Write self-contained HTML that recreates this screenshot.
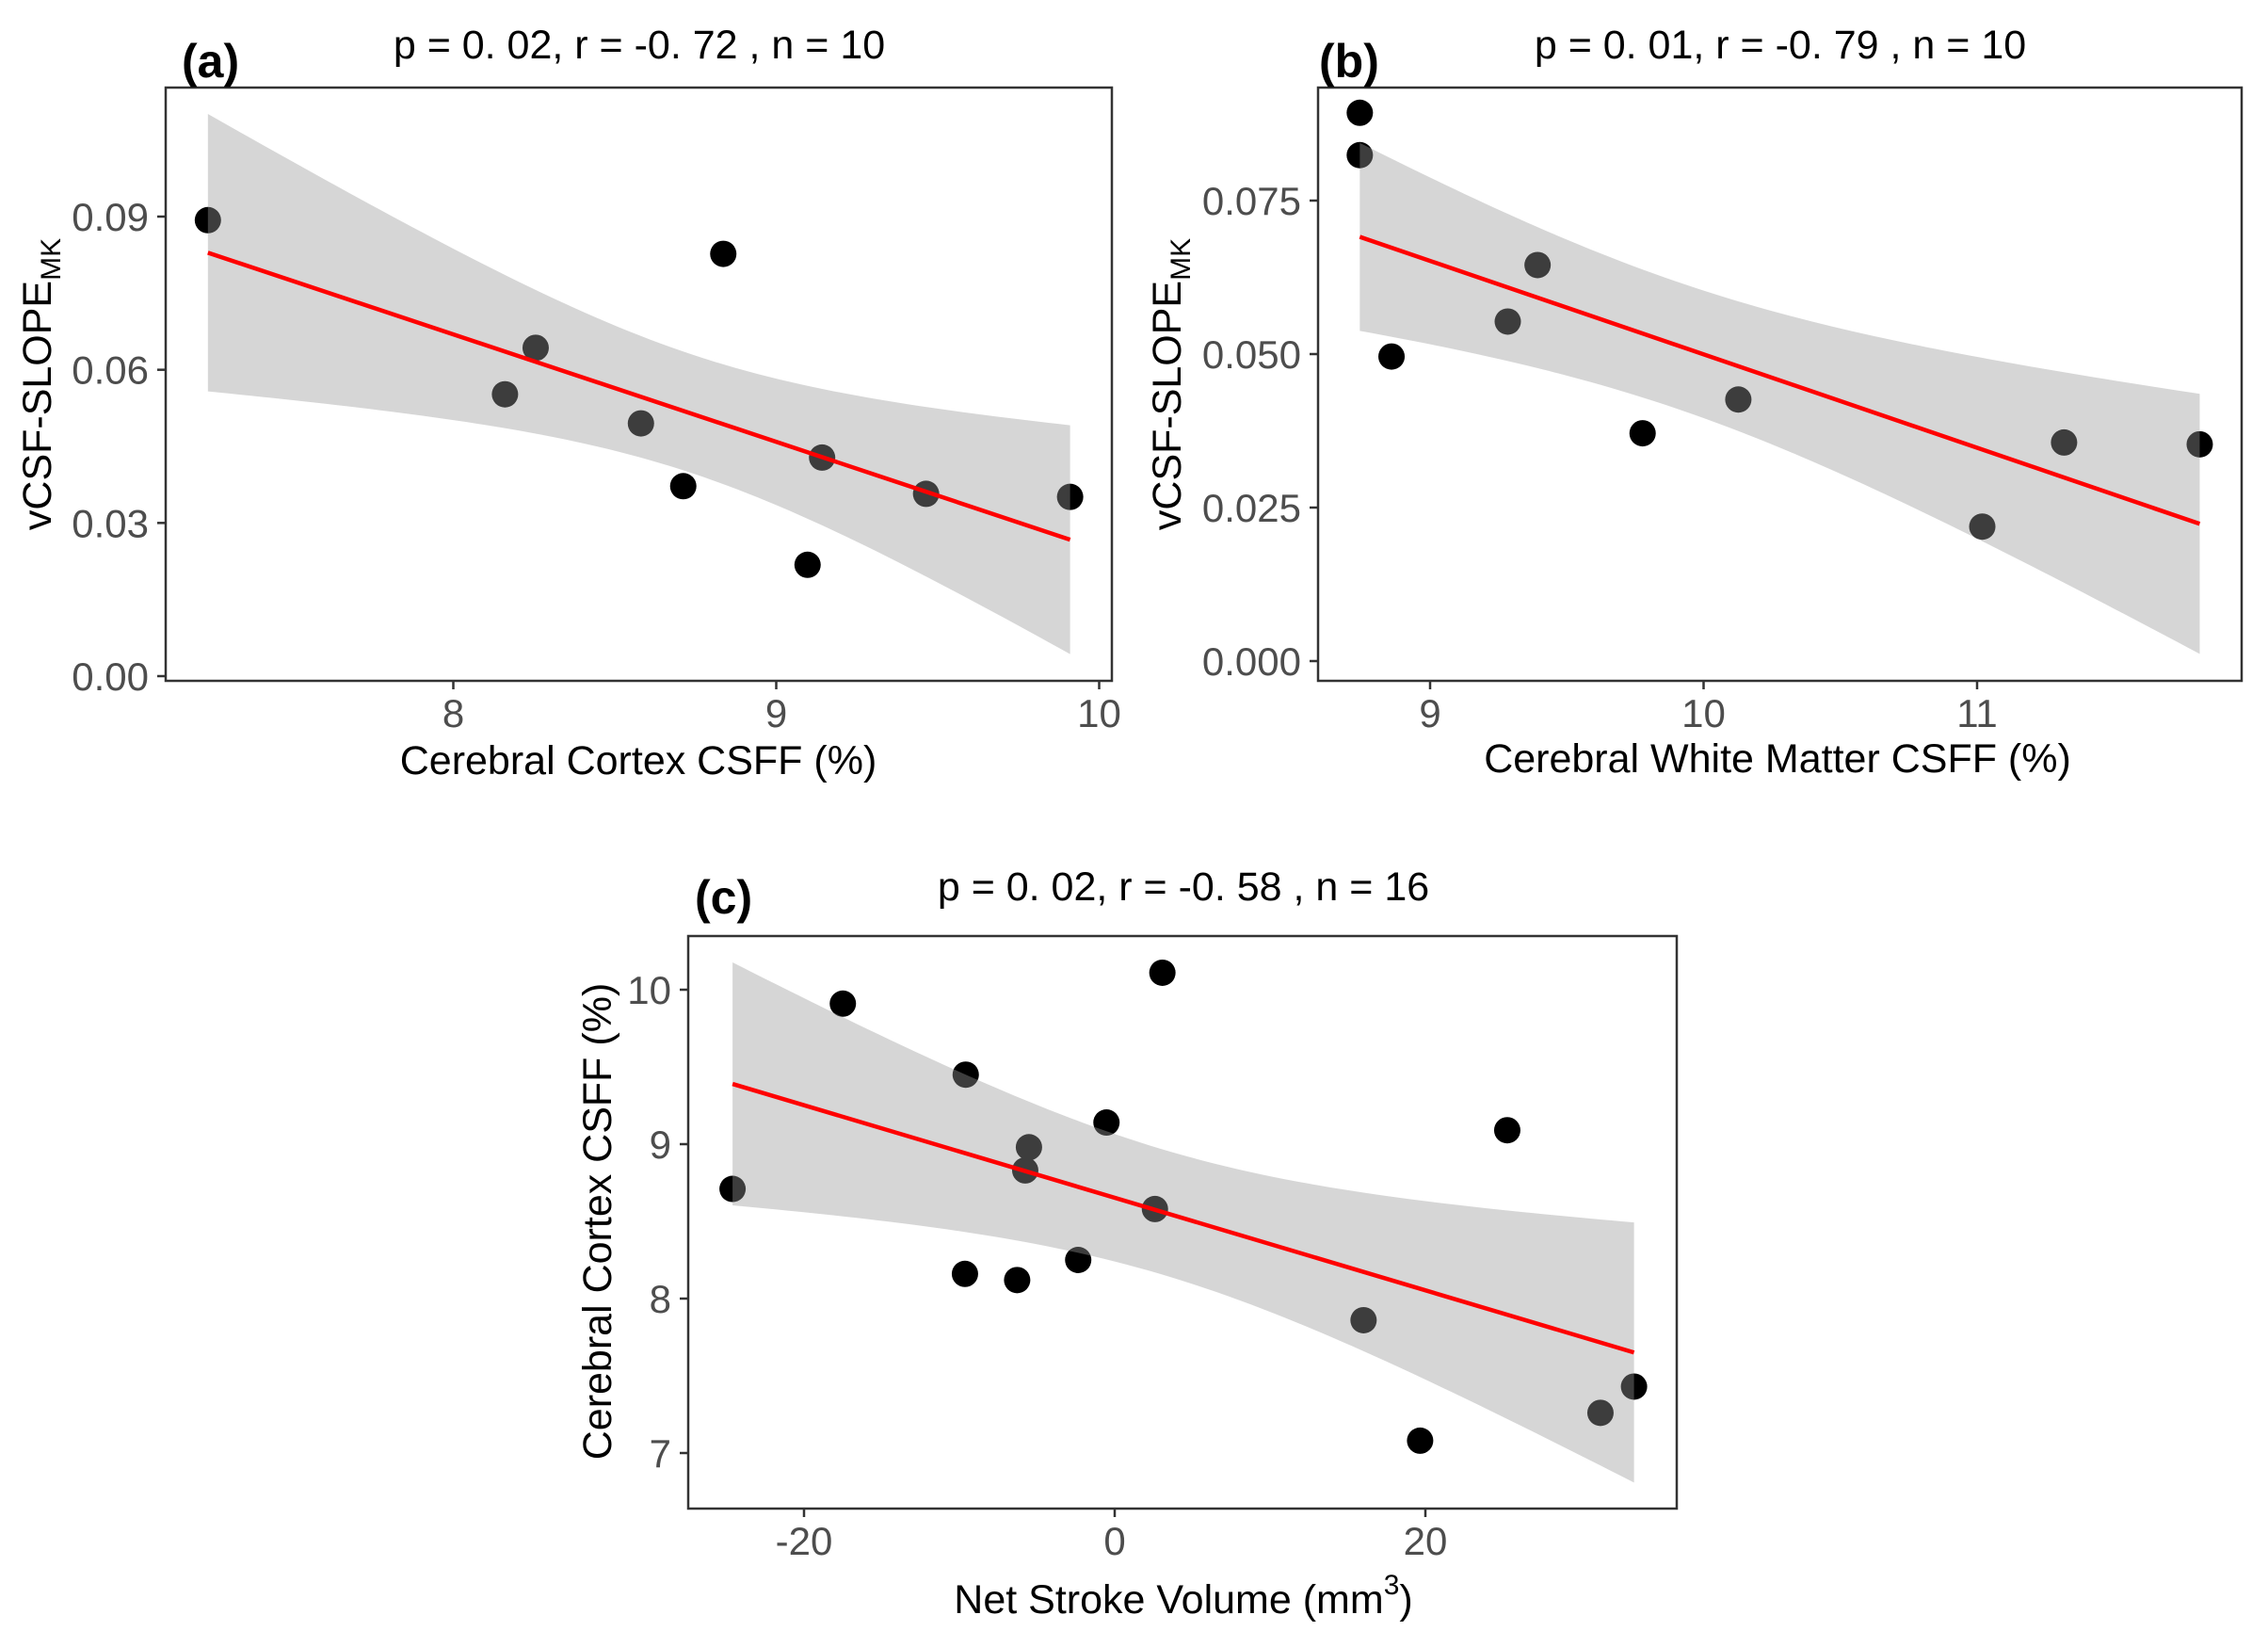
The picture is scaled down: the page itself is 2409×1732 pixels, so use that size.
<!DOCTYPE html>
<html><head><meta charset="utf-8"><style>
html,body{margin:0;padding:0;background:#fff;}
svg{display:block;font-family:"Liberation Sans",Arial,sans-serif;}
</style></head><body>
<svg id="fig" width="2409" height="1732" viewBox="0 0 2409 1732" xmlns="http://www.w3.org/2000/svg">
<rect width="2409" height="1732" fill="#fff"/>
</svg>
<script>
// Panel (a)
const aX = [7.24, 8.836, 8.255, 8.16, 8.581, 8.712, 9.142, 9.097, 9.464, 9.91];
const aY = [0.0893, 0.0827, 0.0643, 0.0552, 0.0495, 0.0372, 0.0428, 0.0218, 0.0357, 0.0351];
const aXTicks = [8, 9, 10];
const aYTicks = [0.00, 0.03, 0.06, 0.09];
const aYTickLabels = ["0.00", "0.03", "0.06", "0.09"];
// Panel (b)
const bX = [8.743, 8.743, 8.859, 9.284, 9.393, 9.777, 10.127, 11.019, 11.318, 11.814];
const bY = [0.0893, 0.0824, 0.0496, 0.0553, 0.0645, 0.0371, 0.0426, 0.0219, 0.0356, 0.0353];
const bXTicks = [9, 10, 11];
const bYTicks = [0.000, 0.025, 0.050, 0.075];
const bYTickLabels = ["0.000", "0.025", "0.050", "0.075"];
// Panel (c)
const cX = [-24.6, -17.5, -9.59, -9.64, -6.28, -5.52, -5.76, -2.35, -0.53, 3.07, 2.59, 16.02, 19.66, 25.27, 31.27, 33.43];
const cY = [8.71, 9.91, 9.45, 8.16, 8.12, 8.98, 8.83, 8.25, 9.14, 10.11, 8.58, 7.86, 7.08, 9.09, 7.26, 7.43];
const cXTicks = [-20, 0, 20];
const cYTicks = [7, 8, 9, 10];

const NS = "http://www.w3.org/2000/svg";
const svg = document.getElementById('fig');
function mk(tag, attrs, parent){
  const e = document.createElementNS(NS, tag);
  for (const k in attrs) e.setAttribute(k, attrs[k]);
  (parent||svg).appendChild(e);
  return e;
}
function tq(df){ return df===8 ? 2.306 : df===14 ? 2.145 : 2.0; }

function panel(cfg){
  const g = mk('g', {});
  
  
  const sx = v => cfg.x0px + (v - cfg.x0v) * cfg.xppu;
  const sy = v => cfg.y0px - (v - cfg.y0v) * cfg.yppu;
  const pts = mk('g', {}, g);
  
  
  cfg.xs.forEach((xv, i) => {
    const c = mk('circle', {cx: sx(xv), cy: sy(cfg.ys[i]), r: 14, fill: '#000'}, pts);
    
    
  });
  const n = cfg.xs.length;
  const mx = cfg.xs.reduce((a,b)=>a+b,0)/n, my = cfg.ys.reduce((a,b)=>a+b,0)/n;
  let sxx=0, sxy=0;
  cfg.xs.forEach((x,i)=>{ sxx += (x-mx)*(x-mx); sxy += (x-mx)*(cfg.ys[i]-my); });
  const b1 = sxy/sxx, b0 = my - b1*mx;
  let sse = 0;
  cfg.xs.forEach((x,i)=>{ const r = cfg.ys[i]-(b0+b1*x); sse += r*r; });
  const s = Math.sqrt(sse/(n-2)), t = tq(n-2);
  const xmin = Math.min(...cfg.xs), xmax = Math.max(...cfg.xs);
  const up = [], lo = [];
  for (let k=0;k<=80;k++){
    const x = xmin + (xmax-xmin)*k/80;
    const f = b0+b1*x, se = s*Math.sqrt(1/n + (x-mx)*(x-mx)/sxx);
    up.push(sx(x)+','+sy(f+t*se));
    lo.unshift(sx(x)+','+sy(f-t*se));
  }
  const band = mk('polygon', {points: up.concat(lo).join(' '), fill: '#999999', 'fill-opacity': 0.4}, g);
  
  
  const line = mk('line', {x1: sx(xmin), y1: sy(b0+b1*xmin), x2: sx(xmax), y2: sy(b0+b1*xmax), stroke: '#ff0000', 'stroke-width': 4.5}, g);
  
  
  const bd = mk('rect', {x: cfg.L, y: cfg.T, width: cfg.R-cfg.L, height: cfg.B-cfg.T, fill: 'none', stroke: '#333', 'stroke-width': 2.5}, g);
  
  
  cfg.xt.forEach((v,i) => {
    const x = sx(v);
    const tk = mk('line', {x1: x, y1: cfg.B, x2: x, y2: cfg.B+9, stroke: '#333', 'stroke-width': 2.5}, g);
    
    
    const tl = mk('text', {x: x, y: cfg.B+49, 'text-anchor': 'middle', 'font-size': 42, fill: '#4d4d4d'}, g);
    tl.textContent = String(v);
    
    
  });
  cfg.yt.forEach((v,i) => {
    const y = sy(v);
    const tk = mk('line', {x1: cfg.L-9, y1: y, x2: cfg.L, y2: y, stroke: '#333', 'stroke-width': 2.5}, g);
    
    
    const tl = mk('text', {x: cfg.L-18, y: y+15, 'text-anchor': 'end', 'font-size': 42, fill: '#4d4d4d'}, g);
    tl.textContent = cfg.ytl ? cfg.ytl[i] : String(v);
    
    
  });
  const ti = mk('text', {x: cfg.titleX, y: cfg.titleY, 'text-anchor': 'middle', 'font-size': 43, fill: '#000'}, g);
  ti.textContent = cfg.title;
  
  
  const tag = mk('text', {x: cfg.tagX, y: cfg.tagY, 'font-size': 50, 'font-weight': 'bold', fill: '#000'}, g);
  tag.textContent = cfg.tag;
  
  
  const xt = mk('text', {x: cfg.xtX, y: cfg.xtY, 'text-anchor': 'middle', 'font-size': 43, fill: '#000'}, g);
  xt.innerHTML = cfg.xTitle;
  
  
  const yt = mk('text', {x: 0, y: 0, 'text-anchor': 'middle', 'font-size': 43, fill: '#000', transform: `translate(${cfg.ytX},${cfg.ytY}) rotate(-90)`}, g);
  yt.innerHTML = cfg.yTitle;
  
  
}

const ySlope = 'vCSF-SLOPE<tspan font-size="30" dy="10">MK</tspan>';

panel({name:'panel-a', xs:aX, ys:aY, xt:aXTicks, yt:aYTicks, ytl:aYTickLabels,
  x0v:8, x0px:481.5, xppu:343, y0v:0, y0px:718, yppu:488/0.09,
  L:176, R:1181, T:93, B:723,
  title:'p = 0. 02, r = -0. 72 , n = 10', titleX:679, titleY:62,
  tag:'(a)', tagX:193, tagY:82,
  xTitle:'Cerebral Cortex CSFF (%)', xtX:678, xtY:822,
  yTitle:ySlope, ytX:54, ytY:408});

panel({name:'panel-b', xs:bX, ys:bY, xt:bXTicks, yt:bYTicks, ytl:bYTickLabels,
  x0v:9, x0px:1519, xppu:290.5, y0v:0, y0px:702, yppu:(702-213)/0.075,
  L:1400, R:2381, T:93, B:723,
  title:'p = 0. 01, r = -0. 79 , n = 10', titleX:1891, titleY:62,
  tag:'(b)', tagX:1401, tagY:82,
  xTitle:'Cerebral White Matter CSFF (%)', xtX:1888, xtY:820,
  yTitle:ySlope, ytX:1254, ytY:408});

panel({name:'panel-c', xs:cX, ys:cY, xt:cXTicks, yt:cYTicks,
  x0v:0, x0px:1184, xppu:330/20, y0v:7, y0px:1543, yppu:164,
  L:731, R:1781, T:994, B:1602,
  title:'p = 0. 02, r = -0. 58 , n = 16', titleX:1257, titleY:956,
  tag:'(c)', tagX:738, tagY:970,
  xTitle:'Net Stroke Volume (mm<tspan font-size="30" dy="-20">3</tspan><tspan dy="20">)</tspan>', xtX:1257, xtY:1713,
  yTitle:'Cerebral Cortex CSFF (%)', ytX:649, ytY:1297});
</script>
</body></html>
